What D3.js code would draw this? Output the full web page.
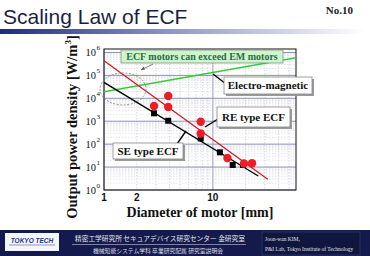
<!DOCTYPE html>
<html><head><meta charset="utf-8">
<script src="https://cdn.jsdelivr.net/npm/d3@7"></script>
<style>html,body{margin:0;padding:0;background:#fff;}svg{display:block;}</style>
</head><body>
<svg id="c" width="370" height="256"></svg>
<script>
// ---- data ----
const seDiam = [2.88, 3.89, 7.73, 11.6, 15.2, 18.9];
const seDensity = [2210, 1050, 176, 44, 12.3, 12.3];
const reDiam = [2.88, 3.89, 3.89, 7.73, 7.73, 13.6, 19.3, 22.9];
const reDensity = [4600, 12600, 4170, 952, 291, 24.9, 14.3, 14.6];
const reFitX = [1, 31.9];
const reFitY = [4.35e5, 2.93];
const seFitX = [1, 26.1];
const seFitY = [4.98e4, 4.08];
const emFitX = [1, 58];
const emFitY = [1.94e4, 5.89e5];
const xTickLabels = [1, 2, 10];
const yTickExps = [0, 1, 2, 3, 4, 5, 6];

const svg = d3.select("#c");
const serif = "'Liberation Serif','Times New Roman',serif";
const sans = "'Liberation Sans',Arial,sans-serif";

// ---- header ----
const defs = svg.append("defs");
const g1 = defs.append("linearGradient").attr("id","hbar");
g1.append("stop").attr("offset","0").attr("stop-color","#1c2a86");
g1.append("stop").attr("offset","0.45").attr("stop-color","#8c93c0");
g1.append("stop").attr("offset","1").attr("stop-color","#ffffff");
svg.append("rect").attr("x",0).attr("y",29).attr("width",365).attr("height",5).attr("fill","url(#hbar)");
svg.append("text").attr("x",3).attr("y",24).attr("font-family",sans).attr("font-size",21)
  .attr("fill","#1b1f3f").text("Scaling Law of ECF");
svg.append("text").attr("x",353).attr("y",14).attr("text-anchor","end").attr("font-family",serif)
  .attr("font-weight","bold").attr("font-size",11).attr("fill","#222").text("No.10");

// ---- scales ----
const x = d3.scaleLog().domain([1,58]).range([104,296]);
const y = d3.scaleLog().domain([1,Math.pow(10,6.15)]).range([190,49]);
const L = 104, R = 296, T = 49, B = 190;

const plot = svg.append("g");
plot.append("rect").attr("x",L).attr("y",T).attr("width",R-L).attr("height",B-T).attr("fill","#fff");

// grid
const xMinor = [];
[1,10].forEach(d=>{for(let k=1;k<10;k++){const v=d*k; if(v<=58) xMinor.push(v);}});
const xm = Array.from(new Set(xMinor)).sort((a,b)=>a-b);
const isDec = d => Math.abs(Math.log10(d)-Math.round(Math.log10(d)))<1e-9;
const yMinor = [];
for(let e=0;e<=6;e++){for(let k=1;k<10;k++){const v=k*Math.pow(10,e); if(v<=Math.pow(10,6.15)) yMinor.push(v);}}
plot.selectAll(".gxm").data(xm).enter().append("line")
  .attr("x1",d=>x(d)).attr("x2",d=>x(d)).attr("y1",T).attr("y2",B)
  .attr("stroke",d=>isDec(d)?"#8a8fb8":"#b8bccf")
  .attr("stroke-width",d=>isDec(d)?0.9:0.6)
  .attr("stroke-dasharray",d=>isDec(d)?null:"1.5,1.5");
plot.selectAll(".gym").data(yMinor).enter().append("line")
  .attr("x1",L).attr("x2",R).attr("y1",d=>y(d)).attr("y2",d=>y(d))
  .attr("stroke",d=>isDec(d)?"#8a8fb8":"#c4c7d8")
  .attr("stroke-width",d=>isDec(d)?1:0.5)
  .attr("stroke-dasharray",d=>isDec(d)?null:"1.5,1.5");

// frame
plot.append("rect").attr("x",L).attr("y",T).attr("width",R-L).attr("height",B-T)
  .attr("fill","none").attr("stroke","#111").attr("stroke-width",1);

// axes labels
const yAx = svg.append("g");
yTickExps.forEach(e=>{
  yAx.append("text").attr("x",96).attr("y",y(Math.pow(10,e))+4)
    .attr("text-anchor","end").attr("font-family",serif).attr("font-size",10.5).attr("fill","#111").text("10");
  yAx.append("text").attr("x",96.5).attr("y",y(Math.pow(10,e))-2)
    .attr("font-family",serif).attr("font-size",7).attr("fill","#111").text(e);
});
svg.append("g").selectAll("text").data(xTickLabels).enter().append("text")
  .attr("x",d=>x(d)).attr("y",201).attr("text-anchor","middle").attr("font-family",sans)
  .attr("font-weight","bold").attr("font-size",10).attr("fill","#111").text(d=>d);

svg.append("text").attr("x",200).attr("y",217).attr("text-anchor","middle").attr("font-family",serif)
  .attr("font-weight","bold").attr("font-size",14).attr("fill","#111").text("Diameter of motor [mm]");
const yl = svg.append("text").attr("transform","translate(77,127) rotate(-90)").attr("text-anchor","middle")
  .attr("font-family",serif).attr("font-weight","bold").attr("font-size",14.5).attr("fill","#111");
yl.append("tspan").text("Output power density [W/m");
yl.append("tspan").attr("font-size",9).attr("dy",-6).text("3");
yl.append("tspan").attr("dy",6).text("]");

// clip
defs.append("clipPath").attr("id","pc").append("rect").attr("x",L).attr("y",T).attr("width",R-L).attr("height",B-T);
const lines = svg.append("g").attr("clip-path","url(#pc)");
const line = d3.line().x(d=>x(d[0])).y(d=>y(d[1]));
lines.append("path").attr("d",line(emFitX.map((v,i)=>[v,emFitY[i]]))).attr("stroke","#33cc33").attr("stroke-width",1.6).attr("fill","none");
lines.append("path").attr("d",line(reFitX.map((v,i)=>[v,reFitY[i]]))).attr("stroke","#d0141c").attr("stroke-width",1.2).attr("fill","none");
lines.append("path").attr("d",line(seFitX.map((v,i)=>[v,seFitY[i]]))).attr("stroke","#000").attr("stroke-width",1.4).attr("fill","none");

// dashed ellipse
svg.append("ellipse").attr("cx",123).attr("cy",89).attr("rx",23).attr("ry",16)
  .attr("fill","none").attr("stroke","#777").attr("stroke-width",0.8).attr("stroke-dasharray","2,1.5");

// markers
svg.append("g").selectAll("rect").data(seDiam.map((v,i)=>[v,seDensity[i]])).enter().append("rect")
  .attr("x",d=>x(d[0])-3).attr("y",d=>y(d[1])-3).attr("width",6).attr("height",6).attr("fill","#000");
svg.append("g").selectAll("circle").data(reDiam.map((v,i)=>[v,reDensity[i]])).enter().append("circle")
  .attr("cx",d=>x(d[0])).attr("cy",d=>y(d[1])).attr("r",4.2).attr("fill","#ee1c24");

// annotations
function box(x0,y0,w,h,fill,label,color,fs,shadow){
  if(shadow) svg.append("rect").attr("x",x0+2).attr("y",y0+2).attr("width",w).attr("height",h).attr("fill","#9a9a9a");
  svg.append("rect").attr("x",x0).attr("y",y0).attr("width",w).attr("height",h).attr("fill",fill)
    .attr("stroke","#888").attr("stroke-width",0.8);
  svg.append("text").attr("x",x0+w/2).attr("y",y0+h/2+fs*0.35).attr("text-anchor","middle")
    .attr("font-family",serif).attr("font-weight","bold").attr("font-size",fs).attr("fill",color).text(label);
}
svg.append("line").attr("x1",153).attr("y1",64).attr("x2",141).attr("y2",70).attr("stroke","#555").attr("stroke-width",0.8);
svg.append("path").attr("d","M141,70 l4,-0.5 l-1.5,-3 z").attr("fill","#555");
svg.append("line").attr("x1",213).attr("y1",74).attr("x2",226).attr("y2",84).attr("stroke","#000").attr("stroke-width",1.4);
svg.append("line").attr("x1",205).attr("y1",127).attr("x2",218).attr("y2",119).attr("stroke","#000").attr("stroke-width",1.4);
svg.append("line").attr("x1",177).attr("y1",144).attr("x2",186).attr("y2",131).attr("stroke","#000").attr("stroke-width",1.4);

box(121,50,162,13,"#ccf5cc","ECF motors can exceed EM motors","#2f6b45",10,false);
box(224,77,88,17,"#fff","Electro-magnetic","#111",11,true);
box(217,107,73,20,"#fff","RE type ECF","#111",11,true);
box(113,143,70,16,"#fff","SE type ECF","#111",11,true);

// ---- footer ----
svg.append("rect").attr("x",0).attr("y",230).attr("width",370).attr("height",26).attr("fill","#141b4c");
svg.append("rect").attr("x",5).attr("y",233).attr("width",54).attr("height",18).attr("fill","#f4f6fb");
svg.append("text").attr("x",32).attr("y",243).attr("text-anchor","middle").attr("font-family",sans)
  .attr("font-style","italic").attr("font-weight","bold").attr("font-size",6.5).attr("fill","#233a8a").text("TOKYO TECH");
svg.append("line").attr("x1",9).attr("x2",55).attr("y1",245).attr("y2",245).attr("stroke","#233a8a").attr("stroke-width",0.5);
svg.append("text").attr("x",160).attr("y",241).attr("text-anchor","middle").attr("font-family","'Noto Sans CJK JP',sans-serif")
  .attr("font-size",6.7).attr("fill","#e8e8f0").text("精密工学研究所 セキュアデバイス研究センター 金研究室");
svg.append("line").attr("x1",72).attr("x2",246).attr("y1",244.5).attr("y2",244.5).attr("stroke","#c8c8d8").attr("stroke-width",0.6);
svg.append("text").attr("x",158).attr("y",252.5).attr("text-anchor","middle").attr("font-family","'Noto Sans CJK JP',sans-serif")
  .attr("font-size",5.8).attr("fill","#d8d8e4").text("機械知能システム学科 卒業研究配属 研究室説明会");
svg.append("rect").attr("x",262).attr("y",232).attr("width",98).attr("height",23).attr("fill","#10173f").attr("stroke","#3a4275").attr("stroke-width",0.6);
svg.append("text").attr("x",265).attr("y",240.5).attr("font-family",serif).attr("font-size",5.5).attr("fill","#e0e0ea").text("Joon-wan KIM,");
svg.append("text").attr("x",265).attr("y",250.5).attr("font-family",serif).attr("font-size",5.5).attr("fill","#e0e0ea").text("P&I Lab, Tokyo Institute of Technology");
</script>
</body></html>
